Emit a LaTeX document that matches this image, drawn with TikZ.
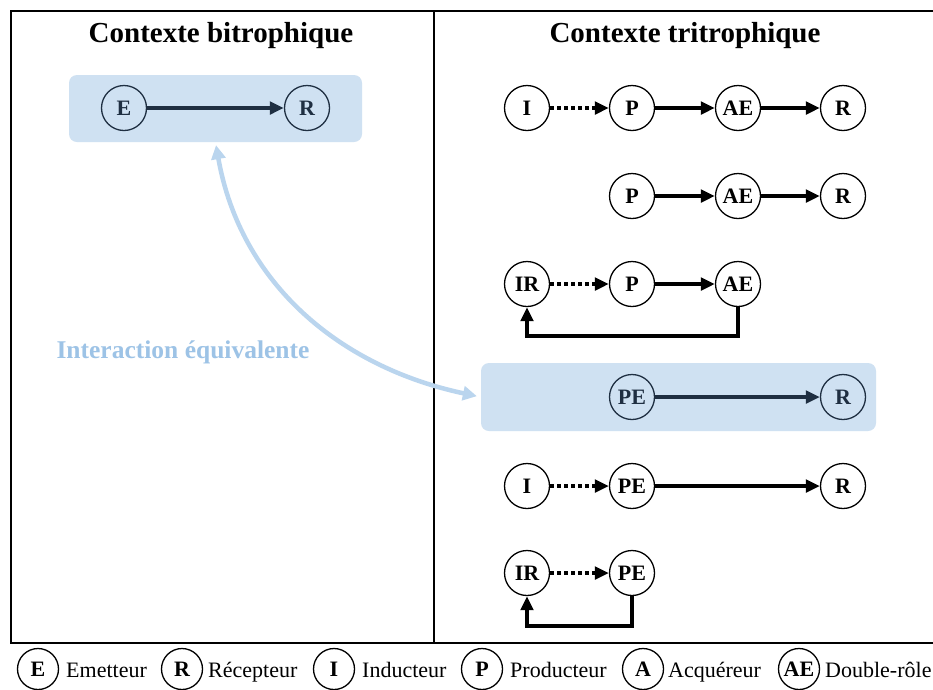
\documentclass[tikz,border=0pt]{standalone}
\usepackage{fontspec}
\setmainfont{Liberation Serif}
\usetikzlibrary{arrows.meta}
\definecolor{boxblue}{RGB}{207,225,242}
\definecolor{linkblue}{RGB}{186,213,238}
\definecolor{textblue}{RGB}{157,195,230}
\definecolor{navy}{RGB}{31,47,66}
\begin{document}
\begin{tikzpicture}[x=1pt,y=-1pt,>={Triangle[length=14pt,width=12.5pt]},
		role/.style={circle,draw=black,fill=white,line width=1.3pt,minimum size=45pt,inner sep=0pt,font=\bfseries\fontsize{22}{22}\selectfont},
		inbox/.style={role,draw=navy,text=navy,fill=none},
		key/.style={circle,draw=black,line width=1.3pt,minimum size=41pt,inner sep=0pt,font=\bfseries\fontsize{22}{22}\selectfont},
		keytext/.style={anchor=base west,inner sep=0pt,font=\fontsize{22}{22}\selectfont},
		plain/.style={->,line width=3.5pt},
		dots/.style={->,line width=3.5pt,dash pattern=on 4pt off 3pt},
		back/.style={->,line width=3.5pt},
		group/.style={fill=boxblue,rounded corners=8pt,inner sep=0pt}]
				\useasboundingbox (0,0) rectangle (933,689);
				\fill[white] (0,0) rectangle (933,689);

				\draw[line width=1.5pt] (940,11) -- (11,11) -- (11,643) -- (940,643);
				\draw[line width=1.5pt] (434,11) -- (434,643);

				\node[font=\bfseries\fontsize{29}{29}\selectfont] (ttlbi) at (221,36) {Contexte bitrophique};
				\node[font=\bfseries\fontsize{29}{29}\selectfont] (ttltri) at (685,36) {Contexte tritrophique};

				\node[group,minimum width=293pt,minimum height=67pt] (boxbi) at (215.5,108.5) {};
				\node[group,minimum width=395pt,minimum height=68pt] (boxtri) at (678.5,397) {};

				\node[inbox] (E) at (124,108) {E};
				\node[inbox] (R) at (307,108) {R};
				\draw[plain,draw=navy] (E) -- (R);

				\node[role] (I1) at (527,108) {I};
				\node[role] (P1) at (632,108) {P};
				\node[role] (AE1) at (738,108) {AE};
				\node[role] (R1) at (843,108) {R};
				\draw[dots] (I1) -- (P1);
				\draw[plain] (P1) -- (AE1);
				\draw[plain] (AE1) -- (R1);

				\node[role] (P2) at (632,196) {P};
				\node[role] (AE2) at (738,196) {AE};
				\node[role] (R2) at (843,196) {R};
				\draw[plain] (P2) -- (AE2);
				\draw[plain] (AE2) -- (R2);

				\node[role] (IR3) at (527,284) {IR};
				\node[role] (P3) at (632,284) {P};
				\node[role] (AE3) at (738,284) {AE};
				\draw[dots] (IR3) -- (P3);
				\draw[plain] (P3) -- (AE3);
				\draw[back] (AE3.south) -- ++(0,29) -| (IR3.south);

				\node[inbox] (PE4) at (632,397) {PE};
				\node[inbox] (R4) at (843,397) {R};
				\draw[plain,draw=navy] (PE4) -- (R4);

				\node[role] (I5) at (527,486) {I};
				\node[role] (PE5) at (632,486) {PE};
				\node[role] (R5) at (843,486) {R};
				\draw[dots] (I5) -- (PE5);
				\draw[plain] (PE5) -- (R5);

				\node[role] (IR6) at (527,573) {IR};
				\node[role] (PE6) at (632,573) {PE};
				\draw[dots] (IR6) -- (PE6);
				\draw[back] (PE6.south) -- ++(0,30) -| (IR6.south);

				\draw[<->,draw=linkblue,line width=4.5pt,shorten <=3pt,shorten >=4pt,
					>={Triangle[length=14pt,width=14pt]}]
					(boxbi.south) to[out=-80,in=168] (boxtri.west);
				\node[text=textblue,font=\bfseries\fontsize{25.5}{25.5}\selectfont] (equiv) at (183,352) {Interaction équivalente};

				\node[key] (kE) at (38,669) {E};
				\node[keytext] (tE) at (66,677) {Emetteur};
				\node[key] (kR) at (182,669) {R};
				\node[keytext] (tR) at (208,677) {Récepteur};
				\node[key] (kI) at (334,669) {I};
				\node[keytext] (tI) at (362,677) {Inducteur};
				\node[key] (kP) at (482,669) {P};
				\node[keytext] (tP) at (510,677) {Producteur};
				\node[key] (kA) at (643,669) {A};
				\node[keytext] (tA) at (668,677) {Acquéreur};
				\node[key] (kAE) at (799,669) {AE};
				\node[keytext] (tAE) at (825,677) {Double-rôle};
			\end{tikzpicture}
\end{document}
